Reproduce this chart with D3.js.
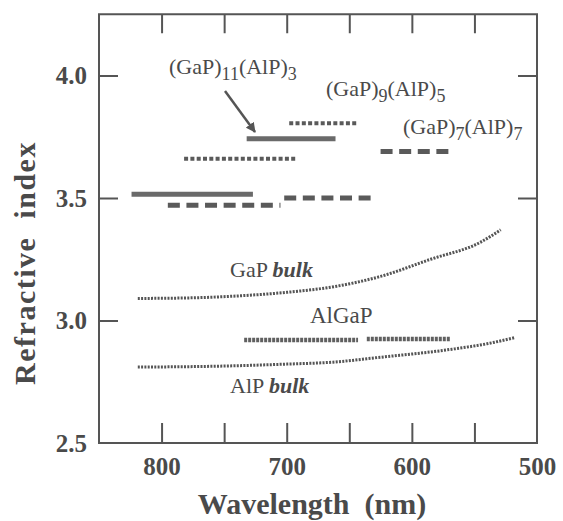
<!DOCTYPE html>
<html>
<head>
<meta charset="utf-8">
<script src="https://cdn.jsdelivr.net/npm/d3@7"></script>
<style>
  html, body { margin: 0; padding: 0; background: #fff; }
  svg { display: block; }
  text { font-family: "Liberation Serif", "DejaVu Serif", serif; fill: #4a4a4a; }
</style>
</head>
<body>
<svg id="chart" width="563" height="521"></svg>
<script>
// ---------- data ----------
const xTicks = [800, 750, 700, 650, 600, 550, 500];
const xTickLabels = [800, 700, 600, 500];
const yTicks = [2.5, 3.0, 3.5, 4.0];

// GaP bulk refractive index (wavelength nm, n)
const gapWl = [819, 780, 740, 700, 660, 625, 585, 545, 529];
const gapN  = [3.09, 3.092, 3.10, 3.115, 3.14, 3.18, 3.25, 3.32, 3.37];

// AlP bulk
const alpWl = [819, 760, 700, 663, 625, 572, 540, 518];
const alpN  = [2.81, 2.813, 2.822, 2.83, 2.85, 2.88, 2.905, 2.93];

// AlGaP segments [start wl, end wl, n]
const algapSegs = [[734, 643, 2.92], [636, 569, 2.925]];

// Superlattice segments [start wl, end wl, n]
const sl11_3 = [[732, 661, 3.742], [824, 727, 3.515]];
const sl9_5  = [[698, 643, 3.805], [782, 693, 3.66]];
const sl7_7  = [[625, 569, 3.69], [795, 705, 3.47], [702, 628, 3.50]];

// ---------- layout ----------
const svg = d3.select("#chart");
const x = d3.scaleLinear().domain([850, 500]).range([99, 537]);
const y = d3.scaleLinear().domain([2.5, 4.25]).range([443, 14.25]);
const ink = "#4d4d4d";

// frame
svg.append("rect")
  .attr("x", x(850)).attr("y", y(4.25))
  .attr("width", x(500) - x(850)).attr("height", y(2.5) - y(4.25))
  .attr("fill", "none").attr("stroke", "#555").attr("stroke-width", 2);

// bottom axis (inward ticks)
const innerX = xTicks.filter(d => d !== 500);
const gb = svg.append("g").attr("transform", `translate(0,${y(2.5)})`)
  .call(d3.axisBottom(x).tickValues(xTicks).tickSizeInner(-20).tickSizeOuter(0).tickPadding(14)
    .tickFormat(d => xTickLabels.includes(d) ? d3.format("d")(d) : ""));
gb.select(".domain").remove();
gb.selectAll(".tick line").attr("stroke", "#555").attr("stroke-width", 2)
  .attr("display", d => innerX.includes(d) ? null : "none");
gb.selectAll(".tick text").attr("font-size", 25).attr("font-weight", "bold")
  .attr("fill", ink).attr("font-family", "Liberation Serif");

// top axis ticks
const gt = svg.append("g").attr("transform", `translate(0,${y(4.25)})`)
  .call(d3.axisTop(x).tickValues(innerX).tickSizeInner(-19).tickSizeOuter(0).tickFormat(""));
gt.select(".domain").remove();
gt.selectAll(".tick line").attr("stroke", "#555").attr("stroke-width", 2);

// left axis
const innerY = [3.0, 3.5, 4.0];
const gl = svg.append("g").attr("transform", `translate(${x(850)},0)`)
  .call(d3.axisLeft(y).tickValues(yTicks).tickSizeInner(-19).tickSizeOuter(0).tickPadding(12)
    .tickFormat(d3.format(".1f")));
gl.select(".domain").remove();
gl.selectAll(".tick line").attr("stroke", "#555").attr("stroke-width", 2)
  .attr("display", d => innerY.includes(d) ? null : "none");
gl.selectAll(".tick text").attr("font-size", 25).attr("font-weight", "bold")
  .attr("fill", ink).attr("font-family", "Liberation Serif");

// right axis ticks
const gr = svg.append("g").attr("transform", `translate(${x(500)},0)`)
  .call(d3.axisRight(y).tickValues(innerY).tickSizeInner(-19).tickSizeOuter(0).tickFormat(""));
gr.select(".domain").remove();
gr.selectAll(".tick line").attr("stroke", "#555").attr("stroke-width", 2);

// axis titles
svg.append("text").attr("x", 312).attr("y", 514).attr("text-anchor", "middle")
  .attr("font-size", 30).attr("font-weight", "bold").attr("fill", ink)
  .style("white-space", "pre").text("Wavelength  (nm)");
svg.append("text").attr("transform", "translate(35,263) rotate(-90)").attr("text-anchor", "middle")
  .attr("font-size", 30).attr("font-weight", "bold").attr("fill", ink)
  .attr("letter-spacing", 1.5).style("white-space", "pre").text("Refractive  index");

// bulk curves
const line = d3.line().x(d => x(d[0])).y(d => y(d[1])).curve(d3.curveMonotoneX);
svg.append("path").datum(gapWl.map((w, i) => [w, gapN[i]]))
  .attr("d", line).attr("fill", "none").attr("stroke", "#555")
  .attr("stroke-width", 3).attr("stroke-dasharray", "2,1.3");
svg.append("path").datum(alpWl.map((w, i) => [w, alpN[i]]))
  .attr("d", line).attr("fill", "none").attr("stroke", "#555")
  .attr("stroke-width", 3).attr("stroke-dasharray", "2,1.3");

// segments helper
function segs(data, width, dash, color) {
  svg.append("g").selectAll("line").data(data).join("line")
    .attr("x1", d => x(d[0])).attr("x2", d => x(d[1]))
    .attr("y1", d => y(d[2])).attr("y2", d => y(d[2]))
    .attr("stroke", color).attr("stroke-width", width)
    .attr("stroke-dasharray", dash);
}
segs(algapSegs, 4.5, "3,1", "#606060");
segs(sl11_3, 5, null, "#6a6a6a");
segs(sl9_5, 4, "4,2.3", "#5a5a5a");
segs(sl7_7, 5, "12,6.6", "#5a5a5a");

// labels
function slLabel(xp, yp, a, b) {
  const t = svg.append("text").attr("x", xp).attr("y", yp).attr("font-size", 22).attr("fill", ink);
  t.append("tspan").text("(GaP)");
  t.append("tspan").attr("dy", 6).attr("font-size", 18).text(a);
  t.append("tspan").attr("dy", -6).text("(AlP)");
  t.append("tspan").attr("dy", 6).attr("font-size", 18).text(b);
}
slLabel(169, 74, "11", "3");
slLabel(326, 96, "9", "5");
slLabel(403, 134, "7", "7");

svg.append("text").attr("x", 310).attr("y", 323).attr("font-size", 23).attr("fill", ink).text("AlGaP");
const gb1 = svg.append("text").attr("x", 230).attr("y", 277).attr("font-size", 22).attr("fill", ink);
gb1.append("tspan").text("GaP ");
gb1.append("tspan").attr("font-weight", "bold").attr("font-style", "italic").text("bulk");
const ab1 = svg.append("text").attr("x", 230).attr("y", 393).attr("font-size", 22).attr("fill", ink);
ab1.append("tspan").text("AlP ");
ab1.append("tspan").attr("font-weight", "bold").attr("font-style", "italic").text("bulk");

// arrow
svg.append("defs").append("marker").attr("id", "ah")
  .attr("viewBox", "0 0 10 10").attr("refX", 9).attr("refY", 5)
  .attr("markerWidth", 4).attr("markerHeight", 4).attr("orient", "auto")
  .append("path").attr("d", "M0,0 L10,5 L0,10 z").attr("fill", "#555");
svg.append("line").attr("x1", 225).attr("y1", 91).attr("x2", 255).attr("y2", 132)
  .attr("stroke", "#555").attr("stroke-width", 2.5).attr("marker-end", "url(#ah)");
</script>
</body>
</html>
